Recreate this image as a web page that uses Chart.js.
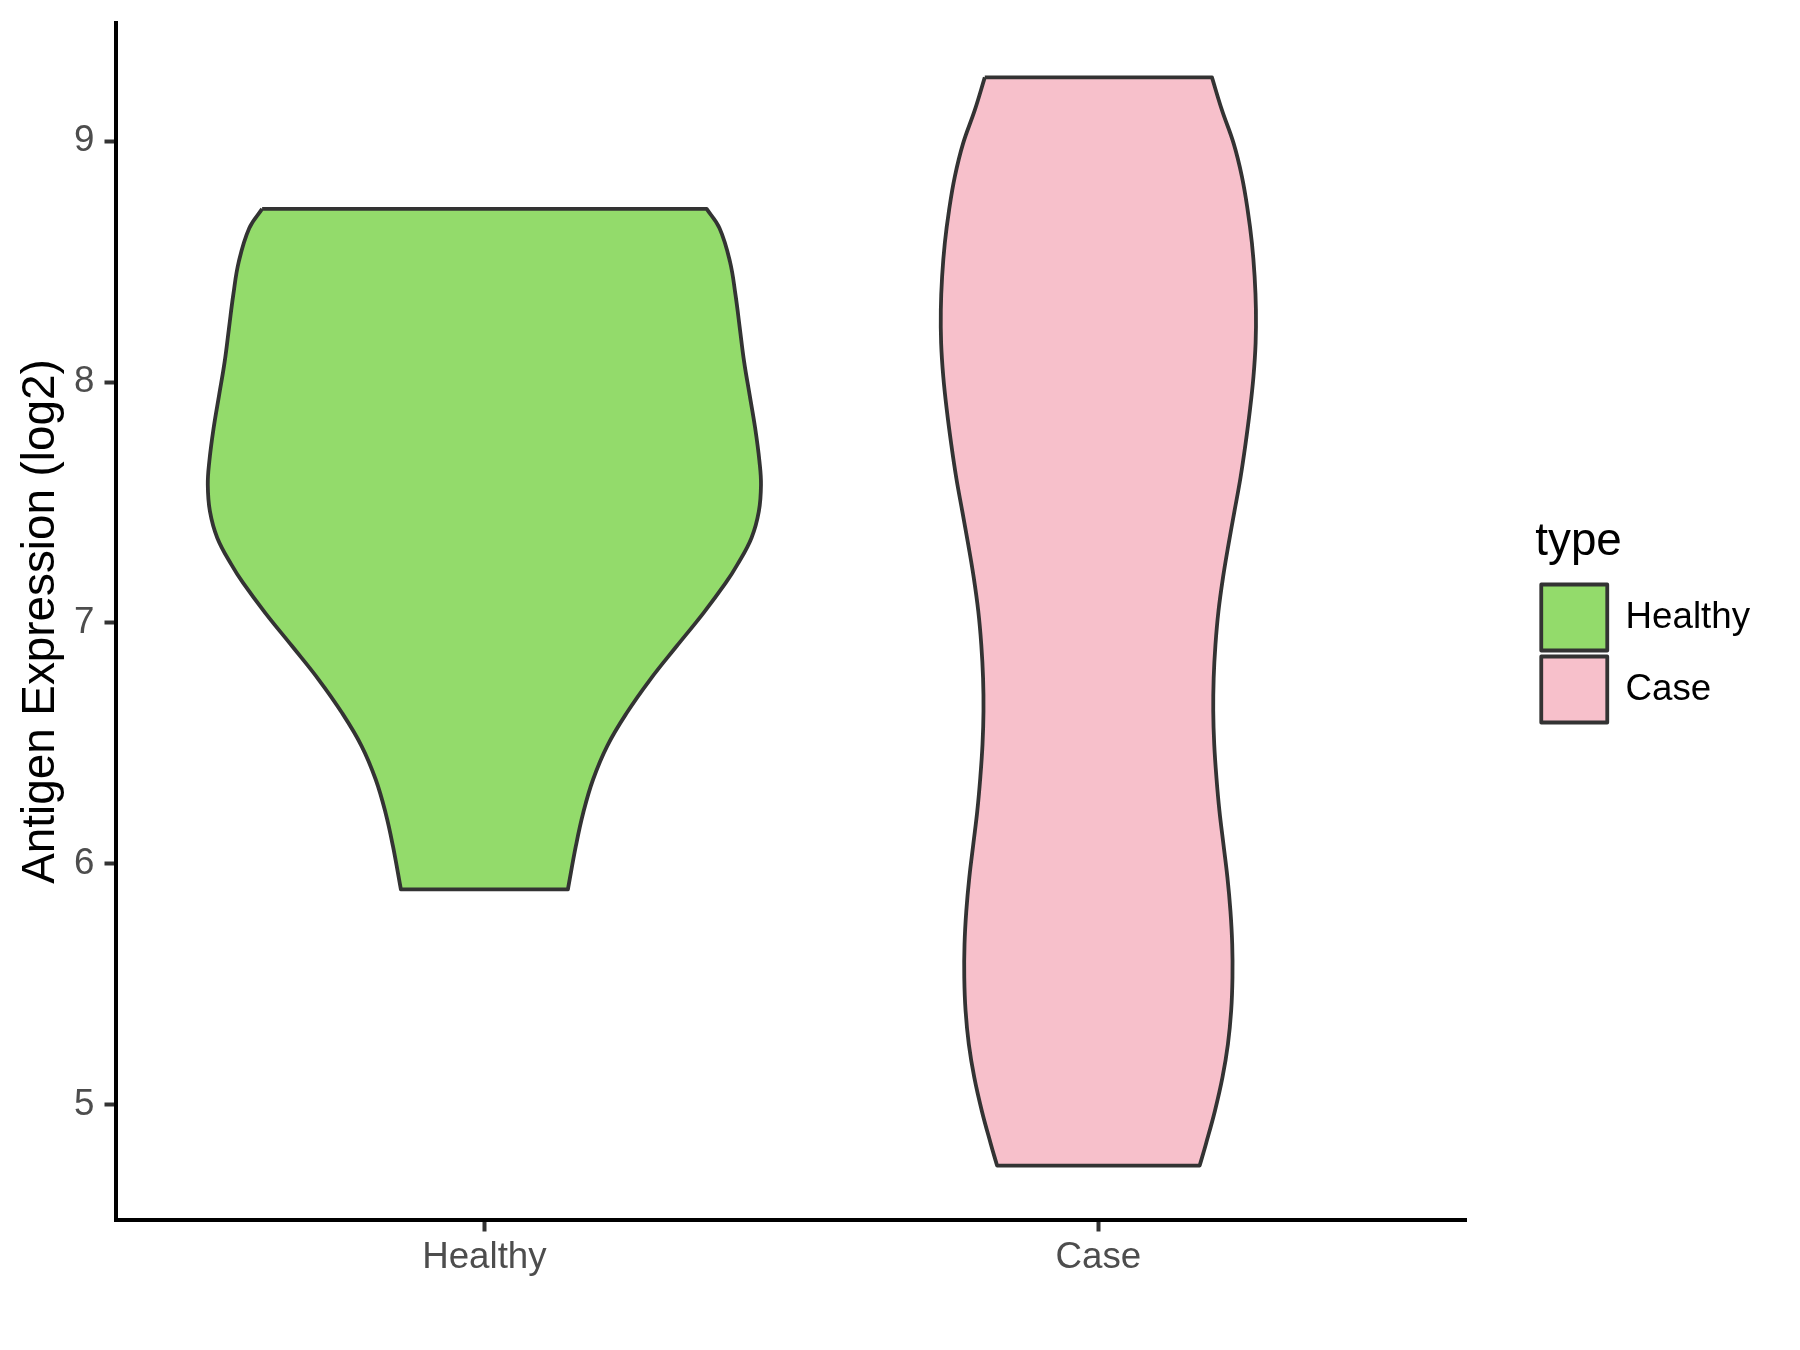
<!DOCTYPE html>
<html>
<head>
<meta charset="utf-8">
<script src="https://cdn.jsdelivr.net/npm/chart.js@4.4.0/dist/chart.umd.min.js"></script>
<style>
html, body { margin: 0; padding: 0; background: #ffffff; }
#wrap { width: 1800px; height: 1350px; position: relative; }
</style>
</head>
<body>
<div id="wrap"><canvas id="c" width="1800" height="1350"></canvas></div>
<script>
// ---- data ----
const categories = ['Healthy', 'Case'];
const categoryPositions = [1, 2];
const yTicks = [5, 6, 7, 8, 9];

// Healthy violin outline: expression level (log2) and half-width (x units)
const healthyY = [8.719, 8.639, 8.500, 8.362, 8.224, 8.085, 7.947, 7.809, 7.671, 7.574, 7.463, 7.353,
                  7.242, 7.166, 7.042, 6.903, 6.765, 6.627, 6.489, 6.350, 6.212, 6.074, 5.894];
const healthyHalfWidth = [0.362, 0.383, 0.400, 0.409, 0.416, 0.423, 0.432, 0.441, 0.448, 0.4505, 0.447, 0.435,
                          0.412, 0.393, 0.357, 0.313, 0.270, 0.232, 0.200, 0.177, 0.161, 0.149, 0.136];

// Case violin outline
const caseY = [9.265, 9.129, 8.991, 8.853, 8.715, 8.577, 8.438, 8.300, 8.162, 8.023, 7.885, 7.740,
               7.602, 7.463, 7.325, 7.187, 7.049, 6.910, 6.772, 6.634, 6.496, 6.358, 6.219, 6.081,
               5.943, 5.804, 5.666, 5.528, 5.390, 5.251, 5.113, 4.975, 4.837, 4.747];
const caseHalfWidth = [0.185, 0.2013, 0.2203, 0.2338, 0.2431, 0.2501, 0.2545, 0.2566, 0.2561, 0.2526, 0.2469, 0.2395,
                       0.2314, 0.2216, 0.2119, 0.2029, 0.1956, 0.1907, 0.1878, 0.1871, 0.1887, 0.1923, 0.1972, 0.2037,
                       0.2102, 0.2151, 0.2180, 0.2184, 0.2163, 0.2110, 0.2021, 0.1899, 0.1752, 0.1650];

const fillColors = ['#93DB6B', '#F7C0CB'];
const outlineColor = '#333333';

// ---- build closed violin outlines from the arrays ----
function outline(center, ys, hws) {
  const n = ys.length;
  const pts = [];
  for (let i = 0; i < n; i++) pts.push({x: center - hws[i], y: ys[i]});
  pts.push({x: center - hws[n - 1], y: ys[n - 1]});          // sharp bottom-left corner
  for (let i = n - 1; i >= 0; i--) {
    pts.push({x: center + hws[i], y: ys[i]});
    if (i === n - 1 || i === 0) pts.push({x: center + hws[i], y: ys[i]}); // sharp corners
  }
  pts.push({x: center - hws[0], y: ys[0]});                  // close across the top
  return pts;
}

const allY = healthyY.concat(caseY);
const yLo = Math.min(...allY), yHi = Math.max(...allY);
const yPad = (yHi - yLo) * 0.05;

const FONT = "'Liberation Sans', Arial, Helvetica, sans-serif";
const tickFont = {family: FONT, size: 36.7};
const titleFont = {family: FONT, size: 45.8};

const series = [
  {label: categories[0], center: categoryPositions[0], ys: healthyY, hws: healthyHalfWidth, color: fillColors[0]},
  {label: categories[1], center: categoryPositions[1], ys: caseY, hws: caseHalfWidth, color: fillColors[1]}
];

new Chart(document.getElementById('c'), {
  type: 'line',
  data: {
    datasets: series.map(s => ({
      label: s.label,
      data: outline(s.center, s.ys, s.hws),
      borderColor: outlineColor,
      borderWidth: 3.8,
      backgroundColor: s.color,
      borderJoinStyle: 'round',
      pointRadius: 0,
      pointHoverRadius: 0,
      tension: 0.4,
      fill: 'shape'
    }))
  },
  options: {
    responsive: false,
    animation: false,
    events: [],
    layout: {padding: {left: 0, top: 23, right: 40, bottom: 0}},
    plugins: {
      tooltip: {enabled: false},
      legend: {
        position: 'right',
        align: 'center',
        fullSize: false,
        title: {
          display: true,
          text: 'type',
          position: 'start',
          color: '#000000',
          font: titleFont,
          padding: {top: 4.5, bottom: 4.5}
        },
        labels: {
          boxWidth: 66,
          boxHeight: 66,
          padding: 6,
          color: '#000000',
          font: tickFont
        }
      }
    },
    scales: {
      x: {
        type: 'linear',
        position: 'bottom',
        min: categoryPositions[0] - 0.6,
        max: categoryPositions[categoryPositions.length - 1] + 0.6,
        afterBuildTicks: s => { s.ticks = categoryPositions.map(v => ({value: v})); },
        afterFit: s => { s.height = 130; s.paddingLeft = 0; s.paddingRight = 0; },
        ticks: {
          callback: v => categories[categoryPositions.indexOf(v)],
          font: tickFont,
          color: '#4D4D4D',
          padding: 4.5,
          autoSkip: false,
          maxRotation: 0
        },
        grid: {drawOnChartArea: false, drawTicks: true, tickLength: 11.5, tickColor: '#333333', tickWidth: 4},
        border: {display: true, color: '#000000', width: 4}
      },
      y: {
        type: 'linear',
        position: 'left',
        min: yLo - yPad,
        max: yHi + yPad,
        afterBuildTicks: s => { s.ticks = yTicks.map(v => ({value: v})); },
        afterFit: s => { s.width = 116; s.paddingTop = 0; s.paddingBottom = 0; },
        ticks: {
          font: tickFont,
          color: '#4D4D4D',
          padding: 10,
          callback: v => String(v)
        },
        grid: {drawOnChartArea: false, drawTicks: true, tickLength: 11.5, tickColor: '#333333', tickWidth: 4},
        border: {display: true, color: '#000000', width: 4},
        title: {
          display: true,
          text: 'Antigen Expression (log2)',
          color: '#000000',
          font: titleFont,
          padding: {top: 14, bottom: 0}
        }
      },
      spacer: {
        type: 'linear',
        position: 'right',
        display: true,
        ticks: {display: false},
        grid: {display: false},
        border: {display: false},
        afterFit: s => { s.width = 68.5; s.paddingTop = 0; s.paddingBottom = 0; }
      }
    }
  }
});
</script>
</body>
</html>
